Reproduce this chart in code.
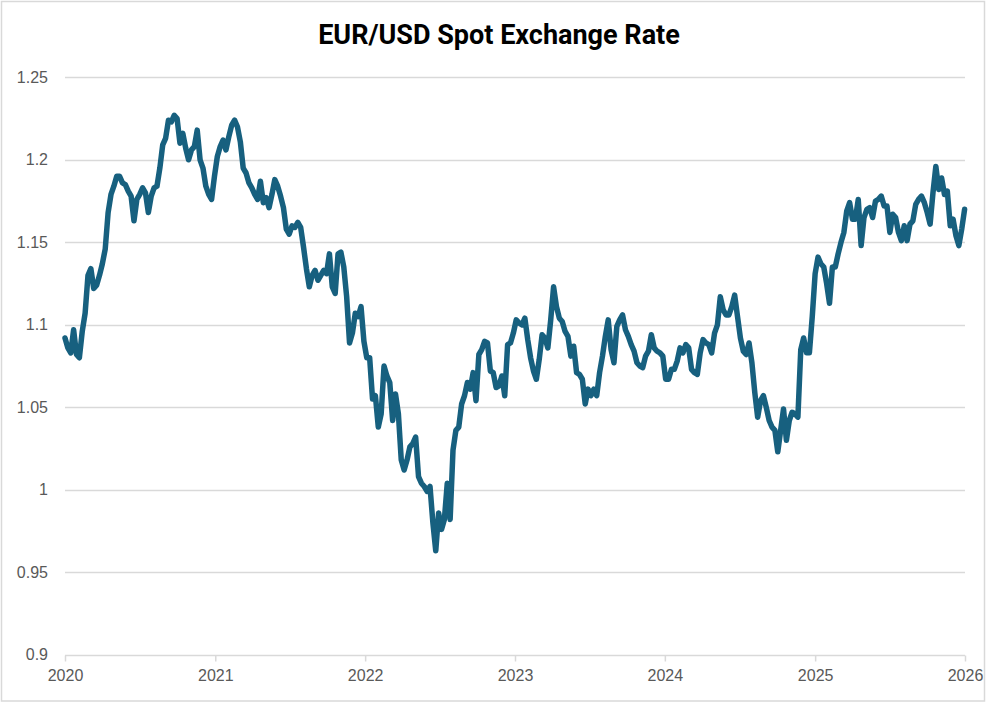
<!DOCTYPE html>
<html>
<head>
<meta charset="utf-8">
<title>EUR/USD Spot Exchange Rate</title>
<script src="https://cdn.jsdelivr.net/npm/d3@7"></script>
<style>
  html, body { margin: 0; padding: 0; background: #fff; }
  #chart { width: 989px; height: 703px; }
</style>
</head>
<body>
<div id="chart"></div>
<script>
/* ===================================
 *  DATA (weekly closes)
 * =================================== */
const startDate = "2020-01-01";
const stepDays = 7;

const rate2020 = [
  1.092, 1.086, 1.083, 1.097, 1.082, 1.080, 1.096, 1.107, 1.130, 1.134,
  1.122, 1.124, 1.130, 1.137, 1.146, 1.168, 1.179, 1.184, 1.190, 1.190,
  1.186, 1.185, 1.181, 1.178, 1.163, 1.176, 1.179, 1.183, 1.180, 1.168,
  1.178, 1.183, 1.184, 1.195, 1.209, 1.213, 1.224, 1.223, 1.227, 1.225,
  1.210, 1.216, 1.207, 1.200, 1.206, 1.208, 1.218, 1.200, 1.195, 1.184,
  1.179, 1.176, 1.190
];
const rate2021 = [
  1.202, 1.208, 1.212, 1.206, 1.214, 1.221, 1.224, 1.220, 1.211, 1.195,
  1.192, 1.186, 1.183, 1.179, 1.176, 1.187, 1.174, 1.177, 1.171, 1.179,
  1.188, 1.184, 1.178, 1.171, 1.158, 1.155, 1.160, 1.159, 1.162, 1.159,
  1.147, 1.134, 1.123, 1.130, 1.133, 1.127, 1.130, 1.133, 1.131, 1.143,
  1.123, 1.119, 1.143, 1.144, 1.135, 1.117, 1.089, 1.095, 1.107, 1.105,
  1.111, 1.090
];
const rate2022 = [
  1.080, 1.080, 1.055, 1.057, 1.038, 1.046, 1.075, 1.069, 1.065, 1.042,
  1.058, 1.046, 1.018, 1.012, 1.018, 1.026, 1.028, 1.032, 1.008, 1.004,
  1.002, 0.999, 1.002, 0.980, 0.963, 0.986, 0.976, 0.982, 1.004, 0.982,
  1.024, 1.036, 1.038, 1.052, 1.057, 1.065, 1.061, 1.071, 1.054, 1.082,
  1.085, 1.090, 1.089, 1.072, 1.071, 1.062, 1.063, 1.069, 1.057, 1.088,
  1.089, 1.095
];
const rate2023 = [
  1.103, 1.101, 1.100, 1.104, 1.091, 1.080, 1.072, 1.067, 1.079, 1.094,
  1.092, 1.086, 1.103, 1.123, 1.111, 1.104, 1.102, 1.096, 1.093, 1.081,
  1.087, 1.071, 1.070, 1.067, 1.052, 1.061, 1.057, 1.061, 1.057, 1.071,
  1.081, 1.093, 1.103, 1.085, 1.077, 1.099, 1.103, 1.106, 1.097, 1.093,
  1.088, 1.084, 1.077, 1.075, 1.074, 1.081, 1.084, 1.094, 1.086, 1.084,
  1.083, 1.081
];
const rate2024 = [
  1.067, 1.067, 1.073, 1.073, 1.078, 1.086, 1.083, 1.088, 1.086, 1.073,
  1.071, 1.070, 1.083, 1.091, 1.089, 1.088, 1.083, 1.095, 1.100, 1.117,
  1.109, 1.106, 1.106, 1.111, 1.118, 1.105, 1.092, 1.084, 1.082, 1.089,
  1.077, 1.059, 1.044, 1.054, 1.057, 1.050, 1.042, 1.038, 1.036, 1.023,
  1.036, 1.049, 1.030, 1.042, 1.047, 1.046, 1.044, 1.085, 1.092, 1.083,
  1.083, 1.105
];
const rate2025 = [
  1.131, 1.141, 1.137, 1.135, 1.125, 1.113, 1.135, 1.135, 1.143, 1.150,
  1.156, 1.169, 1.174, 1.164, 1.164, 1.176, 1.148, 1.165, 1.170, 1.171,
  1.165, 1.175, 1.176, 1.178, 1.172, 1.172, 1.156, 1.167, 1.165, 1.156,
  1.151, 1.160, 1.151, 1.161, 1.163, 1.173, 1.176, 1.178, 1.174, 1.168,
  1.161, 1.180, 1.196, 1.182, 1.189, 1.179, 1.181, 1.160, 1.164, 1.154,
  1.148, 1.158, 1.170
];

const yearTicks = [2020, 2021, 2022, 2023, 2024, 2025, 2026];
const rateTicks = [0.9, 0.95, 1, 1.05, 1.1, 1.15, 1.2, 1.25];
const rateTickLabels = ["0.9", "0.95", "1", "1.05", "1.1", "1.15", "1.2", "1.25"];
const chartTitle = "EUR/USD Spot Exchange Rate";

class RateChart {
  /* ===================================
   *  CONSTRUCTOR
   * =================================== */
  constructor() {
    this.width = 989;
    this.height = 703;
    this.margin = { top: 77.3, bottom: 48.2, left: 65 };
    this.plotWidth = 900;
    this.lineColor = "#17607f";
    this.gridColor = "#d9d9d9";
    this.textColor = "#595959";

    this.Setup();
  }

  /* ===================================
   *  METHODS
   * =================================== */
  Setup() {
    this.BuildSeries();
    this.BuildScales();
    this.DrawFrame();
    this.DrawGrid();
    this.DrawAxes();
    this.DrawLine();
    this.DrawTitle();
  }

  BuildSeries() {
    const values = [].concat(rate2020, rate2021, rate2022, rate2023, rate2024, rate2025);
    const start = d3.timeParse("%Y-%m-%d")(startDate);
    this.series = values.map((v, i) => ({
      date: d3.timeDay.offset(start, i * stepDays),
      value: v,
    }));
  }

  BuildScales() {
    const m = this.margin;
    this.x = d3
      .scaleTime()
      .domain([new Date(yearTicks[0], 0, 1), new Date(yearTicks[yearTicks.length - 1], 0, 1)])
      .range([m.left, m.left + this.plotWidth]);

    this.y = d3
      .scaleLinear()
      .domain([rateTicks[0], rateTicks[rateTicks.length - 1]])
      .range([this.height - m.bottom, m.top]);
  }

  DrawFrame() {
    this.svg = d3
      .select("#chart")
      .append("svg")
      .attr("width", this.width)
      .attr("height", this.height);

    this.svg
      .append("rect")
      .attr("x", 1.5)
      .attr("y", 1.5)
      .attr("width", 983)
      .attr("height", 699.5)
      .attr("fill", "#fff")
      .attr("stroke", this.gridColor)
      .attr("stroke-width", 1.5);
  }

  DrawGrid() {
    const [x0, x1] = this.x.range();
    this.svg
      .append("g")
      .attr("class", "grid")
      .selectAll("line")
      .data(rateTicks)
      .join("line")
      .attr("x1", x0)
      .attr("x2", x1)
      .attr("y1", (d) => Math.round(this.y(d)) + 0.5)
      .attr("y2", (d) => Math.round(this.y(d)) + 0.5)
      .attr("stroke", this.gridColor)
      .attr("stroke-width", 1.5);
  }

  DrawAxes() {
    const labelFont = "'Liberation Sans', Arial, sans-serif";

    // y axis: labels only, no line
    const yAxis = d3
      .axisLeft(this.y)
      .tickValues(rateTicks)
      .tickFormat((d, i) => rateTickLabels[i])
      .tickSize(0)
      .tickPadding(17);

    const gy = this.svg
      .append("g")
      .attr("transform", `translate(${this.margin.left},0)`)
      .call(yAxis);
    gy.select(".domain").remove();
    gy.selectAll("text")
      .attr("fill", this.textColor)
      .style("font-family", labelFont)
      .style("font-size", "16px");

    // x axis: short ticks under the 0.9 gridline
    const xAxis = d3
      .axisBottom(this.x)
      .tickValues(yearTicks.map((yr) => new Date(yr, 0, 1)))
      .tickFormat(d3.timeFormat("%Y"))
      .tickSize(6)
      .tickPadding(8);

    const gx = this.svg
      .append("g")
      .attr("transform", `translate(0,${Math.round(this.y(rateTicks[0])) + 0.5})`)
      .call(xAxis);
    gx.select(".domain").remove();
    gx.selectAll(".tick line")
      .attr("stroke", this.gridColor)
      .attr("stroke-width", 1.5);
    gx.selectAll("text")
      .attr("fill", this.textColor)
      .style("font-family", labelFont)
      .style("font-size", "16px");
  }

  DrawLine() {
    const line = d3
      .line()
      .x((d) => this.x(d.date))
      .y((d) => this.y(d.value));

    this.svg
      .append("path")
      .datum(this.series)
      .attr("d", line)
      .attr("fill", "none")
      .attr("stroke", this.lineColor)
      .attr("stroke-width", 5.5)
      .attr("stroke-linejoin", "round")
      .attr("stroke-linecap", "round");
  }

  DrawTitle() {
    const title = this.svg
      .append("text")
      .attr("x", 499)
      .attr("y", 44)
      .attr("text-anchor", "middle")
      .attr("fill", "#000")
      .style("font-family", "Roboto, 'Open Sans', sans-serif")
      .style("font-weight", "bold")
      .style("font-size", "23px")
      .text(chartTitle);

    // fit the title to the width it has in the original (~362px)
    const w = title.node().getComputedTextLength();
    if (w > 0) {
      title.style("font-size", (23 * 362) / w + "px");
    }
  }
}

new RateChart();
</script>
</body>
</html>
